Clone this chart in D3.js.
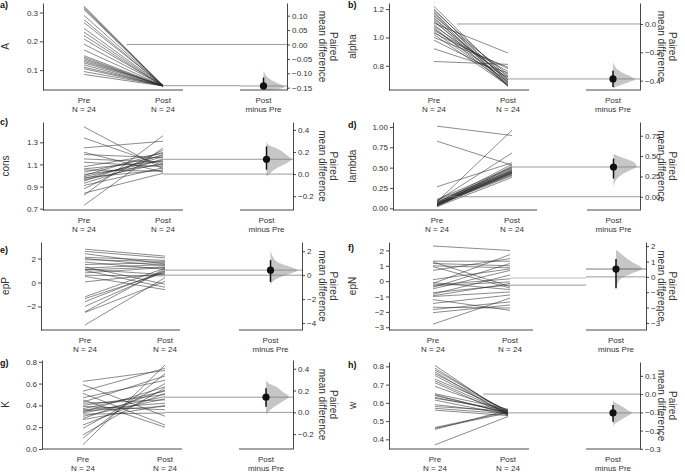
<!DOCTYPE html>
<html><head><meta charset="utf-8">
<script src="https://cdn.jsdelivr.net/npm/d3@7"></script>
<style>
body{margin:0;background:#fff}
text{font-family:"Liberation Sans",Arial,Helvetica,sans-serif}
</style>
</head><body>
<svg id="chart" width="685" height="475"></svg>
<script>
// ---------------- DATA ----------------
const panelLetters = ["a)","b)","c)","d)","e)","f)","g)","h)"];
const variableNames = ["A","alpha","cons","lambda","epP","epN","K","w"];
const groupNames = ["Pre","Post"];
const groupSizes = [24,24];
const deltaLabel = ["Post","minus Pre"];
const deltaAxisTitle = ["Paired","mean difference"];

const preA  = [0.322,0.318,0.314,0.31,0.29,0.275,0.265,0.245,0.232,0.22,0.208,0.19,0.17,0.15,0.145,0.14,0.135,0.13,0.125,0.118,0.11,0.105,0.095,0.085];
const postA = [0.046,0.045,0.047,0.044,0.046,0.045,0.047,0.046,0.045,0.044,0.046,0.047,0.045,0.046,0.044,0.045,0.046,0.047,0.045,0.044,0.046,0.045,0.046,0.045];

const preB  = [1.22,1.20,1.19,1.18,1.17,1.16,1.15,1.14,1.13,1.12,1.11,1.10,1.09,1.08,1.07,1.06,1.05,1.04,1.03,1.02,1.00,0.98,0.92,0.83];
const postB = [0.70,0.68,0.72,0.66,0.69,0.655,0.74,0.67,0.70,0.655,0.71,0.89,0.68,0.73,0.66,0.69,0.76,0.67,0.78,0.66,0.79,0.72,0.75,0.81];

const preC  = [1.44,1.34,1.25,1.21,1.19,1.15,1.12,1.08,1.06,1.05,1.03,1.01,1.00,0.99,0.98,0.97,0.96,0.95,0.93,0.91,0.88,0.84,0.82,0.73];
const postC = [1.06,1.09,1.31,1.03,1.16,1.12,1.08,1.20,1.13,1.04,1.18,1.10,1.21,1.14,1.05,1.17,1.11,1.19,1.15,1.07,1.23,1.02,1.36,1.25];

const preD  = [1.01,0.825,0.265,0.11,0.10,0.09,0.085,0.08,0.075,0.07,0.065,0.06,0.058,0.055,0.05,0.048,0.045,0.042,0.04,0.035,0.032,0.03,0.025,0.02];
const postD = [0.895,0.53,0.56,0.50,0.46,0.68,0.44,0.96,0.49,0.43,0.54,0.47,0.41,0.45,0.52,0.42,0.48,0.44,0.40,0.46,0.51,0.43,0.45,0.38];

const preE  = [2.78,2.6,2.4,2.1,2.0,1.9,1.7,1.5,1.3,1.2,1.1,1.05,1.0,0.8,0.6,0.5,0.05,-1.2,-1.35,-1.6,-2.0,-2.45,-2.5,-3.55];
const postE = [2.2,2.05,1.55,1.85,1.4,1.75,1.1,1.65,-0.15,1.5,0.65,1.3,-0.4,1.25,0.55,-0.6,0.75,1.2,0.85,1.0,0.95,1.15,0.1,0.4];

const preF  = [2.29,1.3,1.25,1.15,1.0,0.95,0.7,0.1,-0.1,-0.15,-0.25,-0.3,-0.4,-0.5,-0.75,-0.85,-0.95,-1.0,-1.2,-1.45,-1.7,-1.85,-2.05,-2.8];
const postF = [2.0,1.3,-0.35,1.0,0.87,-0.45,1.47,0.8,-0.55,1.73,0.15,-0.05,1.15,0.7,-0.25,0.4,-0.15,-0.7,-1.9,-0.9,-1.75,-1.35,-1.55,-1.1];

const preG  = [0.62,0.59,0.53,0.51,0.47,0.45,0.43,0.42,0.40,0.39,0.37,0.36,0.35,0.34,0.33,0.32,0.30,0.28,0.27,0.22,0.19,0.13,0.10,0.04];
const postG = [0.72,0.30,0.74,0.22,0.63,0.20,0.67,0.45,0.50,0.36,0.53,0.42,0.39,0.57,0.48,0.33,0.46,0.54,0.40,0.51,0.60,0.56,0.69,0.77];

const preH  = [0.805,0.79,0.78,0.77,0.76,0.75,0.73,0.72,0.71,0.69,0.65,0.645,0.64,0.63,0.625,0.615,0.59,0.58,0.57,0.56,0.465,0.46,0.455,0.37];
const postH = [0.535,0.545,0.55,0.53,0.555,0.54,0.56,0.545,0.535,0.55,0.565,0.54,0.545,0.55,0.56,0.535,0.545,0.555,0.54,0.53,0.55,0.545,0.56,0.525];

const preSeries  = [preA,preB,preC,preD,preE,preF,preG,preH];
const postSeries = [postA,postB,postC,postD,postE,postF,postG,postH];

// group means as drawn (left-axis units)
const preMeans  = [0.189,1.095,1.013,0.142,0.61,-0.26,0.336,0.648];
const postMeans = [0.046,0.707,1.147,0.508,1.03,0.21,0.475,0.545];
// left-axis value at which the paired-difference axis reads 0
const deltaZero = [0.189,1.095,1.013,0.142,0.61,0.28,0.336,0.648];
// paired mean difference and 95% CI
const deltaMeans = [-0.144,-0.388,0.134,0.366,0.42,0.51,0.139,-0.103];
const ciLow  = [-0.156,-0.445,0.040,0.224,-0.56,-0.74,0.052,-0.151];
const ciHigh = [-0.115,-0.330,0.250,0.468,1.25,1.16,0.222,-0.060];

// bootstrap distribution outline: [difference, relative density]
const bootA = [[-0.093,0],[-0.10,0.06],[-0.11,0.15],[-0.12,0.3],[-0.13,0.55],[-0.14,0.85],[-0.148,1],[-0.154,0.8],[-0.157,0.35],[-0.158,0]];
const bootB = [[-0.265,0],[-0.29,0.05],[-0.32,0.2],[-0.35,0.5],[-0.37,0.8],[-0.39,1],[-0.41,0.75],[-0.43,0.35],[-0.45,0.06],[-0.46,0]];
const bootC = [[0.294,0],[0.26,0.1],[0.233,0.4],[0.173,0.8],[0.134,1],[0.098,0.8],[0.052,0.4],[-0.009,0.07],[-0.024,0]];
const bootD = [[0.53,0],[0.5,0.2],[0.46,0.6],[0.41,0.95],[0.37,1],[0.33,0.75],[0.28,0.4],[0.22,0.15],[0.17,0.05],[0.12,0]];
const bootE = [[2.17,0],[1.67,0.06],[1.11,0.25],[0.69,0.75],[0.42,1],[0.14,0.75],[-0.28,0.25],[-0.6,0.06],[-0.83,0]];
const bootF = [[1.76,0],[1.43,0.25],[0.99,0.6],[0.55,1],[0.22,0.6],[-0.1,0.2],[-0.4,0.06],[-0.8,0]];
const bootG = [[0.3,0],[0.27,0.1],[0.237,0.43],[0.191,0.71],[0.145,1],[0.098,0.71],[0.052,0.36],[0.0,0.08],[-0.025,0]];
const bootH = [[-0.029,0],[-0.045,0.08],[-0.06,0.34],[-0.088,0.78],[-0.102,1],[-0.124,0.69],[-0.151,0.26],[-0.165,0.06],[-0.175,0]];
const bootSeries = [bootA,bootB,bootC,bootD,bootE,bootF,bootG,bootH];

// axes
const leftDomains = [[0.031,0.333],[0.629,1.243],[0.688,1.484],[-0.021,1.061],[-3.97,3.38],[-3.18,2.55],[0,0.816],[0.347,0.824]];
const leftTicks = [[0.1,0.2,0.3],[0.8,1.0,1.2],[0.7,0.9,1.1,1.3],[0,0.25,0.5,0.75,1.0],[-2,0,2],[-3,-2,-1,0,1,2],[0,0.2,0.4,0.6,0.8],[0.4,0.5,0.6,0.7,0.8]];
const leftFormats = [".1f",".1f",".1f",".2f",".0f",".0f",".1f",".1f"];
const rightTicks = [[-0.15,-0.10,-0.05,0,0.05,0.10],[-0.4,-0.2,0],[-0.2,0,0.2,0.4],[0,0.25,0.5,0.75],[-4,-2,0,2],[-3,-2,-1,0,1,2],[-0.2,0,0.2,0.4],[-0.3,-0.2,-0.1,0,0.1]];
const rightFormats = [".2f",".1f",".1f",".2f",".0f",".0f",".1f",".1f"];

// ---------------- LAYOUT ----------------
const layout = [
 {col:0,axisX:43, preX:84, postX:163,endX:183,rStart:240,rAxis:287,top:3,  bot:90, lineFrac:0.54,vw:21,letterY:8},
 {col:1,axisX:389,preX:434,postX:508,endX:529,rStart:586,rAxis:640,top:3,  bot:90, lineFrac:0.31,vw:22,letterY:8},
 {col:0,axisX:43, preX:84, postX:163,endX:183,rStart:240,rAxis:293,top:122,bot:210,lineFrac:1,   vw:25,letterY:125},
 {col:1,axisX:393,preX:437,postX:512,endX:537,rStart:587,rAxis:640,top:122,bot:210,lineFrac:0.16,vw:23,letterY:128},
 {col:0,axisX:41, preX:85, postX:165,endX:180,rStart:239,rAxis:302,top:242,bot:330,lineFrac:1,   vw:27,letterY:253},
 {col:1,axisX:389,preX:433,postX:510,endX:533,rStart:586,rAxis:646,top:242,bot:330,lineFrac:1,   vw:26,letterY:251},
 {col:0,axisX:42, preX:83, postX:165,endX:182,rStart:239,rAxis:293,top:360,bot:449,lineFrac:1,   vw:23,letterY:366},
 {col:1,axisX:389,preX:435,postX:508,endX:529,rStart:586,rAxis:640,top:362,bot:449,lineFrac:0.66,vw:19,letterY:368}
];
const colStyle = [{letterX:0,yLabX:8.5,pairedX:333},{letterX:348,yLabX:355.5,pairedX:672}];

const svg = d3.select("#chart");
const axisCol = "#333";
const txtCol = "#333";

layout.forEach((L,i) => {
  const C = colStyle[L.col];
  const g = svg.append("g");
  const y = d3.scaleLinear().domain(leftDomains[i]).range([L.bot, L.top]);
  const yr = d3.scaleLinear().domain(leftDomains[i].map(v => v - deltaZero[i])).range([L.bot, L.top]);
  const x = d3.scalePoint().domain(groupNames).range([L.preX, L.postX]);
  const dX = (L.rStart + L.rAxis) / 2;

  // panel letter
  g.append("text").attr("x", C.letterX).attr("y", L.letterY)
    .attr("font-size", 9).attr("font-weight", "bold").attr("fill", "#111").text(panelLetters[i]);

  // y label
  g.append("text").attr("transform", `translate(${C.yLabX},${(L.top+L.bot)/2}) rotate(-90)`)
    .attr("text-anchor","middle").attr("font-size",10).attr("fill",txtCol).text(variableNames[i]);

  // paired lines
  const pairs = preSeries[i].map((v,k) => [v, postSeries[i][k]]);
  g.append("g").selectAll("line").data(pairs).join("line")
    .attr("x1", x("Pre")).attr("x2", x("Post"))
    .attr("y1", d => y(d[0])).attr("y2", d => y(d[1]))
    .attr("stroke","#2b2b2b").attr("stroke-opacity",0.72).attr("stroke-width",0.75);

  // violin (bootstrap distribution)
  const area = d3.area().curve(d3.curveMonotoneY)
    .y(d => yr(d[0])).x0(dX).x1(d => dX + d[1]*L.vw);
  g.append("path").attr("d", area(bootSeries[i])).attr("fill","#c6c6c6");

  // reference lines
  const preStart = x("Pre") + L.lineFrac * (x("Post") - x("Pre"));
  const ref = "#808080";
  const consistent = deltaZero[i] === preMeans[i];
  g.append("line").attr("x1", preStart).attr("x2", L.rStart)
    .attr("y1", y(preMeans[i])).attr("y2", y(preMeans[i]))
    .attr("stroke", ref).attr("stroke-width", 0.8);
  g.append("line").attr("x1", x("Post")).attr("x2", L.rStart)
    .attr("y1", y(postMeans[i])).attr("y2", y(postMeans[i]))
    .attr("stroke", consistent ? ref : "#d4d4d4").attr("stroke-width", consistent ? 0.8 : 1.6);
  g.append("line").attr("x1", L.rStart).attr("x2", L.rAxis)
    .attr("y1", yr(0)).attr("y2", yr(0)).attr("stroke", ref).attr("stroke-width", 0.8);
  g.append("line").attr("x1", L.rStart).attr("x2", L.rAxis)
    .attr("y1", yr(deltaMeans[i])).attr("y2", yr(deltaMeans[i])).attr("stroke", consistent ? ref : "#555").attr("stroke-width", 0.8);

  // CI and point
  g.append("line").attr("x1", dX).attr("x2", dX)
    .attr("y1", yr(ciLow[i])).attr("y2", yr(ciHigh[i]))
    .attr("stroke","#111").attr("stroke-width",1.5);
  g.append("circle").attr("cx", dX).attr("cy", yr(deltaMeans[i])).attr("r", 3.6).attr("fill","#111");

  // left axis
  const la = g.append("g").attr("transform", `translate(${L.axisX},0)`)
    .call(d3.axisLeft(y).tickValues(leftTicks[i]).tickFormat(d3.format(leftFormats[i])).tickSize(3).tickSizeOuter(0).tickPadding(2));
  // right axis
  const ra = g.append("g").attr("transform", `translate(${L.rAxis},0)`)
    .call(d3.axisRight(yr).tickValues(rightTicks[i]).tickFormat(d3.format(rightFormats[i])).tickSize(3).tickSizeOuter(0).tickPadding(2));
  [la, ra].forEach(a => {
    a.selectAll("path,line").attr("stroke", axisCol).attr("stroke-width", 0.9);
    a.selectAll("text").attr("font-size", 8).attr("fill", txtCol).attr("font-family",'"Liberation Sans",Arial,sans-serif');
  });

  // x axis lines
  g.append("line").attr("x1", L.axisX).attr("x2", L.endX).attr("y1", L.bot).attr("y2", L.bot)
    .attr("stroke", axisCol).attr("stroke-width", 0.9);
  g.append("line").attr("x1", L.rStart).attr("x2", L.rAxis).attr("y1", L.bot).attr("y2", L.bot)
    .attr("stroke", axisCol).attr("stroke-width", 0.9);

  // x labels
  groupNames.forEach((nm,k) => {
    const t = g.append("text").attr("text-anchor","middle").attr("font-size",8).attr("fill",txtCol);
    t.append("tspan").attr("x", x(nm)).attr("y", L.bot + 13).text(nm);
    t.append("tspan").attr("x", x(nm)).attr("y", L.bot + 21.5).text(`N = ${groupSizes[k]}`);
  });
  const dt = g.append("text").attr("text-anchor","middle").attr("font-size",8).attr("fill",txtCol);
  dt.append("tspan").attr("x", dX).attr("y", L.bot + 13).text(deltaLabel[0]);
  dt.append("tspan").attr("x", dX).attr("y", L.bot + 21.5).text(deltaLabel[1]);

  // right axis title
  const pt = g.append("text").attr("transform", `translate(${C.pairedX},${(L.top+L.bot)/2}) rotate(90)`)
    .attr("text-anchor","middle").attr("font-size",10).attr("fill",txtCol);
  pt.append("tspan").attr("x",0).attr("y",3.5).text(deltaAxisTitle[0]);
  pt.append("tspan").attr("x",0).attr("y",14).text(deltaAxisTitle[1]);
});
</script>
</body></html>
